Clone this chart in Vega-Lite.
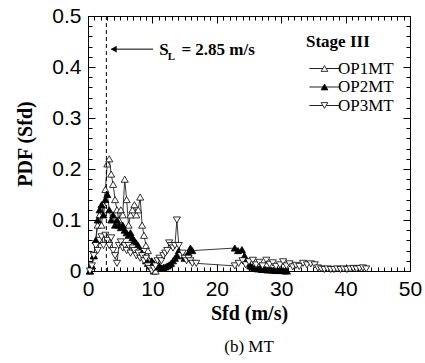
{
  "$schema": "https://vega.github.io/schema/vega-lite/v6.json",
  "width": 322,
  "height": 255,
  "autosize": {"type": "none"},
  "padding": {"left": 88, "top": 16, "right": 15, "bottom": 92},
  "background": "white",
  "title": {"text": "(b)  MT", "orient": "bottom", "font": "Liberation Serif", "fontSize": 17, "fontWeight": "normal", "color": "black", "offset": 16},
  "config": {
    "view": {"stroke": "black", "strokeWidth": 1},
    "axis": {"domainColor": "black", "tickColor": "black", "labelColor": "black", "labelFont": "Liberation Sans", "labelFontSize": 21, "titleFont": "Liberation Serif", "titleFontSize": 20, "titleFontWeight": "bold", "titleColor": "black", "grid": false, "labelOverlap": false, "labelFlush": false},
    "legend": {"labelFont": "Liberation Serif", "labelFontSize": 17, "labelColor": "black", "titleFont": "Liberation Serif", "titleFontSize": 17, "titleFontWeight": "bold", "titleColor": "black"}
  },
  "data": {"values": [
    {"series":"OP1MT","s":0.3,"pdf":0.0},{"series":"OP1MT","s":0.6,"pdf":0.01},{"series":"OP1MT","s":0.9,"pdf":0.03},{"series":"OP1MT","s":1.2,"pdf":0.06},{"series":"OP1MT","s":1.5,"pdf":0.09},{"series":"OP1MT","s":1.8,"pdf":0.11},{"series":"OP1MT","s":2.1,"pdf":0.09},{"series":"OP1MT","s":2.4,"pdf":0.13},{"series":"OP1MT","s":2.7,"pdf":0.16},{"series":"OP1MT","s":3.0,"pdf":0.21},{"series":"OP1MT","s":3.3,"pdf":0.22},{"series":"OP1MT","s":3.6,"pdf":0.19},{"series":"OP1MT","s":3.9,"pdf":0.17},{"series":"OP1MT","s":4.2,"pdf":0.14},{"series":"OP1MT","s":4.5,"pdf":0.12},{"series":"OP1MT","s":4.8,"pdf":0.10},{"series":"OP1MT","s":5.1,"pdf":0.12},{"series":"OP1MT","s":5.4,"pdf":0.11},{"series":"OP1MT","s":5.7,"pdf":0.18},{"series":"OP1MT","s":6.0,"pdf":0.14},{"series":"OP1MT","s":6.3,"pdf":0.09},{"series":"OP1MT","s":6.6,"pdf":0.11},{"series":"OP1MT","s":6.9,"pdf":0.12},{"series":"OP1MT","s":7.2,"pdf":0.13},{"series":"OP1MT","s":7.5,"pdf":0.11},{"series":"OP1MT","s":7.8,"pdf":0.12},{"series":"OP1MT","s":8.1,"pdf":0.145},{"series":"OP1MT","s":8.4,"pdf":0.09},{"series":"OP1MT","s":8.7,"pdf":0.07},{"series":"OP1MT","s":9.0,"pdf":0.05},{"series":"OP1MT","s":9.3,"pdf":0.04},{"series":"OP1MT","s":9.6,"pdf":0.02},{"series":"OP1MT","s":9.9,"pdf":0.01},{"series":"OP1MT","s":10.2,"pdf":0.0},{"series":"OP1MT","s":10.5,"pdf":0.0},
    {"series":"OP2MT","s":0.3,"pdf":0.0},{"series":"OP2MT","s":0.6,"pdf":0.01},{"series":"OP2MT","s":0.9,"pdf":0.03},{"series":"OP2MT","s":1.2,"pdf":0.06},{"series":"OP2MT","s":1.5,"pdf":0.10},{"series":"OP2MT","s":1.8,"pdf":0.12},{"series":"OP2MT","s":2.1,"pdf":0.13},{"series":"OP2MT","s":2.4,"pdf":0.11},{"series":"OP2MT","s":2.7,"pdf":0.14},{"series":"OP2MT","s":3.0,"pdf":0.15},{"series":"OP2MT","s":3.3,"pdf":0.12},{"series":"OP2MT","s":3.6,"pdf":0.10},{"series":"OP2MT","s":3.9,"pdf":0.11},{"series":"OP2MT","s":4.2,"pdf":0.09},{"series":"OP2MT","s":4.5,"pdf":0.10},{"series":"OP2MT","s":4.8,"pdf":0.09},{"series":"OP2MT","s":5.1,"pdf":0.085},{"series":"OP2MT","s":5.4,"pdf":0.09},{"series":"OP2MT","s":5.7,"pdf":0.08},{"series":"OP2MT","s":6.0,"pdf":0.075},{"series":"OP2MT","s":6.3,"pdf":0.07},{"series":"OP2MT","s":6.6,"pdf":0.075},{"series":"OP2MT","s":6.9,"pdf":0.065},{"series":"OP2MT","s":7.2,"pdf":0.06},{"series":"OP2MT","s":7.5,"pdf":0.055},{"series":"OP2MT","s":7.8,"pdf":0.05},{"series":"OP2MT","s":8.1,"pdf":0.04},{"series":"OP2MT","s":8.4,"pdf":0.035},{"series":"OP2MT","s":8.7,"pdf":0.03},{"series":"OP2MT","s":9.0,"pdf":0.02},{"series":"OP2MT","s":9.3,"pdf":0.015},{"series":"OP2MT","s":9.6,"pdf":0.01},{"series":"OP2MT","s":9.9,"pdf":0.02},{"series":"OP2MT","s":10.2,"pdf":0.015},{"series":"OP2MT","s":10.5,"pdf":0.01},{"series":"OP2MT","s":10.8,"pdf":0.008},{"series":"OP2MT","s":11.1,"pdf":0.01},{"series":"OP2MT","s":11.4,"pdf":0.006},{"series":"OP2MT","s":11.7,"pdf":0.007},{"series":"OP2MT","s":12.0,"pdf":0.008},{"series":"OP2MT","s":12.3,"pdf":0.01},{"series":"OP2MT","s":12.6,"pdf":0.012},{"series":"OP2MT","s":12.9,"pdf":0.015},{"series":"OP2MT","s":13.2,"pdf":0.02},{"series":"OP2MT","s":13.5,"pdf":0.025},{"series":"OP2MT","s":13.8,"pdf":0.03},{"series":"OP2MT","s":14.1,"pdf":0.04},{"series":"OP2MT","s":14.4,"pdf":0.035},{"series":"OP2MT","s":14.7,"pdf":0.03},{"series":"OP2MT","s":15.0,"pdf":0.025},{"series":"OP2MT","s":15.3,"pdf":0.03},{"series":"OP2MT","s":15.6,"pdf":0.035},{"series":"OP2MT","s":15.9,"pdf":0.045},{"series":"OP2MT","s":16.2,"pdf":0.04},{"series":"OP2MT","s":22.8,"pdf":0.045},{"series":"OP2MT","s":23.3,"pdf":0.04},{"series":"OP2MT","s":23.9,"pdf":0.042},{"series":"OP2MT","s":24.3,"pdf":0.03},{"series":"OP2MT","s":24.6,"pdf":0.02},{"series":"OP2MT","s":24.9,"pdf":0.015},{"series":"OP2MT","s":25.2,"pdf":0.01},{"series":"OP2MT","s":25.5,"pdf":0.008},{"series":"OP2MT","s":25.8,"pdf":0.005},{"series":"OP2MT","s":26.1,"pdf":0.006},{"series":"OP2MT","s":26.4,"pdf":0.004},{"series":"OP2MT","s":26.7,"pdf":0.005},{"series":"OP2MT","s":27.0,"pdf":0.003},{"series":"OP2MT","s":27.3,"pdf":0.004},{"series":"OP2MT","s":27.6,"pdf":0.003},{"series":"OP2MT","s":27.9,"pdf":0.002},{"series":"OP2MT","s":28.2,"pdf":0.003},{"series":"OP2MT","s":28.5,"pdf":0.002},{"series":"OP2MT","s":28.8,"pdf":0.002},{"series":"OP2MT","s":29.1,"pdf":0.001},{"series":"OP2MT","s":29.4,"pdf":0.002},{"series":"OP2MT","s":29.7,"pdf":0.001},{"series":"OP2MT","s":30.0,"pdf":0.001},{"series":"OP2MT","s":30.3,"pdf":0.001},{"series":"OP2MT","s":30.6,"pdf":0.0},{"series":"OP2MT","s":30.9,"pdf":0.0},
    {"series":"OP3MT","s":0.3,"pdf":0.0},{"series":"OP3MT","s":0.6,"pdf":0.01},{"series":"OP3MT","s":0.9,"pdf":0.03},{"series":"OP3MT","s":1.2,"pdf":0.05},{"series":"OP3MT","s":1.5,"pdf":0.04},{"series":"OP3MT","s":1.8,"pdf":0.06},{"series":"OP3MT","s":2.1,"pdf":0.067},{"series":"OP3MT","s":2.4,"pdf":0.05},{"series":"OP3MT","s":2.7,"pdf":0.07},{"series":"OP3MT","s":3.0,"pdf":0.06},{"series":"OP3MT","s":3.3,"pdf":0.05},{"series":"OP3MT","s":3.6,"pdf":0.065},{"series":"OP3MT","s":3.9,"pdf":0.04},{"series":"OP3MT","s":4.2,"pdf":0.03},{"series":"OP3MT","s":4.5,"pdf":0.015},{"series":"OP3MT","s":4.8,"pdf":0.05},{"series":"OP3MT","s":5.1,"pdf":0.057},{"series":"OP3MT","s":5.4,"pdf":0.045},{"series":"OP3MT","s":5.7,"pdf":0.05},{"series":"OP3MT","s":6.0,"pdf":0.04},{"series":"OP3MT","s":6.3,"pdf":0.05},{"series":"OP3MT","s":6.6,"pdf":0.035},{"series":"OP3MT","s":6.9,"pdf":0.045},{"series":"OP3MT","s":7.2,"pdf":0.04},{"series":"OP3MT","s":7.5,"pdf":0.03},{"series":"OP3MT","s":7.8,"pdf":0.035},{"series":"OP3MT","s":8.1,"pdf":0.025},{"series":"OP3MT","s":8.4,"pdf":0.03},{"series":"OP3MT","s":8.7,"pdf":0.02},{"series":"OP3MT","s":9.0,"pdf":0.025},{"series":"OP3MT","s":9.3,"pdf":0.01},{"series":"OP3MT","s":9.6,"pdf":0.005},{"series":"OP3MT","s":9.9,"pdf":0.0},{"series":"OP3MT","s":10.2,"pdf":0.005},{"series":"OP3MT","s":10.5,"pdf":0.01},{"series":"OP3MT","s":10.8,"pdf":0.02},{"series":"OP3MT","s":11.1,"pdf":0.025},{"series":"OP3MT","s":11.4,"pdf":0.02},{"series":"OP3MT","s":11.7,"pdf":0.03},{"series":"OP3MT","s":12.0,"pdf":0.035},{"series":"OP3MT","s":12.3,"pdf":0.04},{"series":"OP3MT","s":12.6,"pdf":0.055},{"series":"OP3MT","s":12.9,"pdf":0.05},{"series":"OP3MT","s":13.2,"pdf":0.045},{"series":"OP3MT","s":13.5,"pdf":0.05},{"series":"OP3MT","s":13.8,"pdf":0.10},{"series":"OP3MT","s":14.1,"pdf":0.05},{"series":"OP3MT","s":14.4,"pdf":0.03},{"series":"OP3MT","s":14.7,"pdf":0.035},{"series":"OP3MT","s":15.0,"pdf":0.025},{"series":"OP3MT","s":15.3,"pdf":0.02},{"series":"OP3MT","s":15.6,"pdf":0.025},{"series":"OP3MT","s":15.9,"pdf":0.02},{"series":"OP3MT","s":16.2,"pdf":0.015},{"series":"OP3MT","s":16.8,"pdf":0.015},{"series":"OP3MT","s":22.8,"pdf":0.01},{"series":"OP3MT","s":23.4,"pdf":0.015},{"series":"OP3MT","s":24.0,"pdf":0.02},{"series":"OP3MT","s":24.5,"pdf":0.012},{"series":"OP3MT","s":25.0,"pdf":0.018},{"series":"OP3MT","s":25.6,"pdf":0.021},{"series":"OP3MT","s":26.1,"pdf":0.012},{"series":"OP3MT","s":26.6,"pdf":0.017},{"series":"OP3MT","s":27.1,"pdf":0.01},{"series":"OP3MT","s":27.7,"pdf":0.021},{"series":"OP3MT","s":28.2,"pdf":0.013},{"series":"OP3MT","s":28.7,"pdf":0.016},{"series":"OP3MT","s":29.2,"pdf":0.009},{"series":"OP3MT","s":29.8,"pdf":0.012},{"series":"OP3MT","s":30.3,"pdf":0.018},{"series":"OP3MT","s":30.8,"pdf":0.01},{"series":"OP3MT","s":31.3,"pdf":0.014},{"series":"OP3MT","s":31.8,"pdf":0.008},{"series":"OP3MT","s":32.3,"pdf":0.011},{"series":"OP3MT","s":32.8,"pdf":0.009},{"series":"OP3MT","s":33.4,"pdf":0.015},{"series":"OP3MT","s":34.0,"pdf":0.012},{"series":"OP3MT","s":34.6,"pdf":0.014},{"series":"OP3MT","s":35.2,"pdf":0.012},{"series":"OP3MT","s":35.7,"pdf":0.006},{"series":"OP3MT","s":36.2,"pdf":0.004},{"series":"OP3MT","s":36.7,"pdf":0.003},{"series":"OP3MT","s":37.2,"pdf":0.004},{"series":"OP3MT","s":37.7,"pdf":0.003},{"series":"OP3MT","s":38.2,"pdf":0.003},{"series":"OP3MT","s":38.7,"pdf":0.004},{"series":"OP3MT","s":39.2,"pdf":0.003},{"series":"OP3MT","s":39.7,"pdf":0.004},{"series":"OP3MT","s":40.2,"pdf":0.003},{"series":"OP3MT","s":40.7,"pdf":0.004},{"series":"OP3MT","s":41.2,"pdf":0.005},{"series":"OP3MT","s":41.7,"pdf":0.004},{"series":"OP3MT","s":42.2,"pdf":0.005},{"series":"OP3MT","s":42.7,"pdf":0.006},{"series":"OP3MT","s":43.2,"pdf":0.004}
  ]},
  "resolve": {"axis": {"x": "independent", "y": "independent"}},
  "layer": [
    {
      "mark": {"type": "line", "strokeWidth": 0.9},
      "encoding": {
        "x": {"field": "s", "type": "quantitative", "scale": {"domain": [0, 50], "nice": false},
          "axis": {"orient": "bottom", "values": [0,1,2,3,4,5,6,7,8,9,10,11,12,13,14,15,16,17,18,19,20,21,22,23,24,25,26,27,28,29,30,31,32,33,34,35,36,37,38,39,40,41,42,43,44,45,46,47,48,49,50],
            "tickSize": {"condition": {"test": "datum.value % 10 === 0", "value": -7}, "value": -4},
            "labelExpr": "datum.value % 10 === 0 ? datum.label : ''", "labelPadding": 14, "title": "Sfd (m/s)", "titlePadding": 1}},
        "y": {"field": "pdf", "type": "quantitative", "scale": {"domain": [0, 0.5], "nice": false},
          "axis": {"orient": "left", "values": [0,0.02,0.04,0.06,0.08,0.1,0.12,0.14,0.16,0.18,0.2,0.22,0.24,0.26,0.28,0.3,0.32,0.34,0.36,0.38,0.4,0.42,0.44,0.46,0.48,0.5],
            "tickSize": {"condition": {"test": "abs(datum.value*10 - round(datum.value*10)) < 0.001", "value": -7}, "value": -4},
            "labelExpr": "abs(datum.value*10 - round(datum.value*10)) < 0.001 ? format(datum.value, '.1~f') : ''", "labelPadding": 14, "title": "PDF (Sfd)", "titlePadding": 16}},
        "color": {"field": "series", "type": "nominal", "scale": {"domain": ["OP1MT", "OP2MT", "OP3MT"], "range": ["#222222", "#222222", "#222222"]},
          "legend": {"orient": "none", "legendX": 218, "legendY": 18, "title": "Stage III", "symbolType": "M-4.5,0L4.5,0", "symbolSize": 45, "symbolStrokeWidth": 1, "symbolStrokeColor": "#222222", "symbolOffset": 10, "padding": 0, "labelOffset": 5, "titlePadding": 9, "rowPadding": 0.5}}
      }
    },
    {
      "mark": {"type": "point", "filled": false, "size": 50, "strokeWidth": 0.8, "opacity": 1},
      "encoding": {
        "x": {"field": "s", "type": "quantitative",
          "axis": {"orient": "top", "values": [0,1,2,3,4,5,6,7,8,9,10,11,12,13,14,15,16,17,18,19,20,21,22,23,24,25,26,27,28,29,30,31,32,33,34,35,36,37,38,39,40,41,42,43,44,45,46,47,48,49,50],
            "tickSize": {"condition": {"test": "datum.value % 10 === 0", "value": -7}, "value": -4}, "labels": false, "title": null}},
        "y": {"field": "pdf", "type": "quantitative",
          "axis": {"orient": "right", "values": [0,0.02,0.04,0.06,0.08,0.1,0.12,0.14,0.16,0.18,0.2,0.22,0.24,0.26,0.28,0.3,0.32,0.34,0.36,0.38,0.4,0.42,0.44,0.46,0.48,0.5],
            "tickSize": {"condition": {"test": "abs(datum.value*10 - round(datum.value*10)) < 0.001", "value": -7}, "value": -4}, "labels": false, "title": null}},
        "shape": {"field": "series", "type": "nominal", "scale": {"range": ["triangle-up", "triangle-up", "triangle-down"]},
          "legend": {"orient": "none", "legendX": 218, "legendY": 18, "title": "Stage III", "titleOpacity": 0, "labelOpacity": 0, "symbolSize": 45, "symbolStrokeWidth": 0.8, "symbolOffset": 10, "padding": 0, "labelOffset": 5, "titlePadding": 9, "rowPadding": 0.5}},
        "fill": {"field": "series", "type": "nominal", "scale": {"range": ["white", "black", "white"]},
          "legend": {"orient": "none", "legendX": 218, "legendY": 18, "title": "Stage III", "titleOpacity": 0, "labelOpacity": 0, "symbolSize": 45, "symbolStrokeWidth": 0.8, "symbolOffset": 10, "padding": 0, "labelOffset": 5, "titlePadding": 9, "rowPadding": 0.5}},
        "stroke": {"field": "series", "type": "nominal", "scale": {"range": ["black", "black", "black"]},
          "legend": {"orient": "none", "legendX": 218, "legendY": 18, "title": "Stage III", "titleOpacity": 0, "labelOpacity": 0, "symbolSize": 45, "symbolStrokeWidth": 0.8, "symbolOffset": 10, "padding": 0, "labelOffset": 5, "titlePadding": 9, "rowPadding": 0.5}}
      }
    },
    {
      "data": {"values": [{}]},
      "mark": {"type": "rule", "strokeDash": [4, 3], "color": "black", "strokeWidth": 1},
      "encoding": {"x": {"datum": 2.85, "type": "quantitative", "axis": null}}
    },
    {
      "data": {"values": [{}]},
      "mark": {"type": "rule", "color": "black", "strokeWidth": 1},
      "encoding": {"x": {"datum": 3.6, "type": "quantitative", "axis": null}, "x2": {"datum": 10.1}, "y": {"datum": 0.435, "type": "quantitative", "axis": null}}
    },
    {
      "data": {"values": [{}]},
      "mark": {"type": "point", "shape": "triangle-left", "filled": true, "color": "black", "size": 45, "opacity": 1},
      "encoding": {"x": {"datum": 4.0, "type": "quantitative", "axis": null}, "y": {"datum": 0.435, "type": "quantitative", "axis": null}}
    },
    {
      "data": {"values": [{}]},
      "mark": {"type": "text", "text": "S", "align": "left", "baseline": "alphabetic", "font": "Liberation Serif", "fontSize": 17, "fontWeight": "bold", "color": "black"},
      "encoding": {"x": {"datum": 11.07, "type": "quantitative", "axis": null}, "y": {"datum": 0.424, "type": "quantitative", "axis": null}}
    },
    {
      "data": {"values": [{}]},
      "mark": {"type": "text", "text": "L", "align": "left", "baseline": "alphabetic", "font": "Liberation Serif", "fontSize": 11, "fontWeight": "bold", "color": "black"},
      "encoding": {"x": {"datum": 12.4, "type": "quantitative", "axis": null}, "y": {"datum": 0.413, "type": "quantitative", "axis": null}}
    },
    {
      "data": {"values": [{}]},
      "mark": {"type": "text", "text": "= 2.85 m/s", "align": "left", "baseline": "alphabetic", "font": "Liberation Serif", "fontSize": 17, "fontWeight": "bold", "color": "black"},
      "encoding": {"x": {"datum": 14.5, "type": "quantitative", "axis": null}, "y": {"datum": 0.424, "type": "quantitative", "axis": null}}
    }
  ]
}
